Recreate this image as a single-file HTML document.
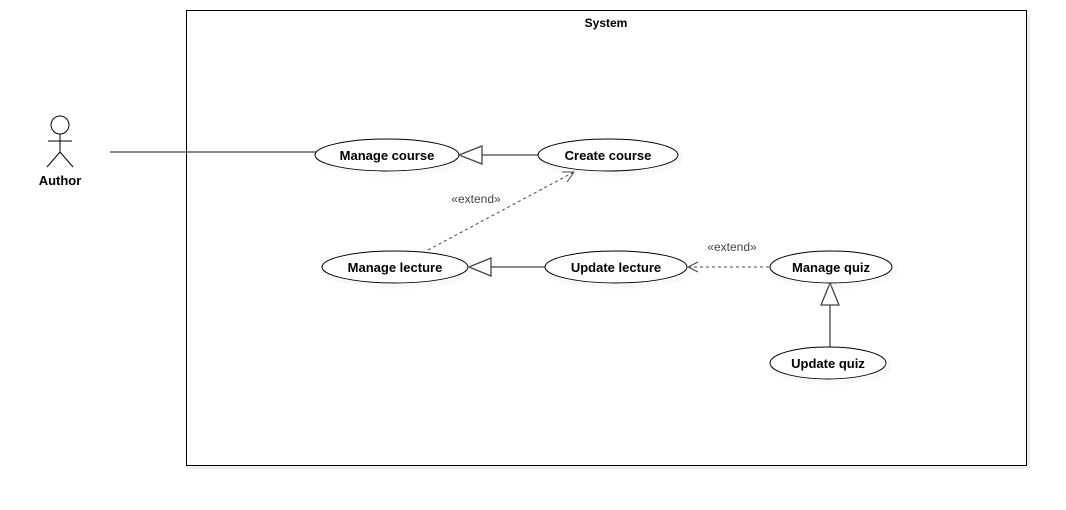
<!DOCTYPE html>
<html><head><style>body{margin:0;background:#fff}</style></head><body>
<svg width="1066" height="505" xmlns="http://www.w3.org/2000/svg" font-family="Liberation Sans, Arial, sans-serif">
<defs><filter id="s" x="-10%" y="-10%" width="130%" height="140%"><feOffset dx="3" dy="3"/><feGaussianBlur stdDeviation="1.5"/><feComponentTransfer><feFuncA type="linear" slope="0.25"/></feComponentTransfer><feMerge><feMergeNode/><feMergeNode in="SourceGraphic"/></feMerge></filter></defs>
<rect x="190" y="14" width="840" height="455" fill="#eee"/>
<rect x="186.5" y="10.5" width="840" height="455" fill="#fff" stroke="#000"/>
<text x="606" y="27" font-size="12" font-weight="bold" text-anchor="middle">System</text>
<g stroke="#000" fill="none">
<circle cx="60" cy="125" r="9"/>
<line x1="60" y1="134" x2="60" y2="152"/>
<line x1="48" y1="141" x2="72" y2="141"/>
<line x1="60" y1="152" x2="47" y2="167"/>
<line x1="60" y1="152" x2="73" y2="167"/>
</g>
<text x="60" y="185" font-size="13" font-weight="bold" text-anchor="middle">Author</text>
<g stroke="#444" stroke-width="1.3" fill="none">
<line x1="110" y1="152" x2="316" y2="152"/>
<line x1="482" y1="155" x2="538" y2="155"/>
<polygon points="459,155 482,146 482,164" fill="#fff"/>
<line x1="491" y1="267" x2="546" y2="267"/>
<polygon points="469,267 491,258 491,276" fill="#fff"/>
<line x1="830" y1="305" x2="830" y2="347"/>
<polygon points="830,283 821,305 839,305" fill="#fff"/>
<line x1="428" y1="250" x2="574" y2="172" stroke-dasharray="3,3" stroke-width="1"/>
<polyline points="562,172 574,172 567,182" stroke-width="1"/>
<line x1="688" y1="267" x2="770" y2="267" stroke-dasharray="3,3" stroke-width="1"/>
<polyline points="698,262 688,267 698,272" stroke-width="1"/>
</g>
<text x="476" y="203" font-size="12" fill="#444" text-anchor="middle">«extend»</text>
<text x="732" y="251" font-size="12" fill="#444" text-anchor="middle">«extend»</text>
<g fill="#fff" stroke="#000" filter="url(#s)">
<ellipse cx="387" cy="155" rx="72" ry="16"/>
<ellipse cx="608" cy="155" rx="70" ry="16"/>
<ellipse cx="395" cy="267" rx="73" ry="16"/>
<ellipse cx="616" cy="267" rx="71" ry="16"/>
<ellipse cx="831" cy="267" rx="61" ry="16"/>
<ellipse cx="828" cy="363" rx="58" ry="16"/>
</g>
<g font-size="13" font-weight="bold" text-anchor="middle">
<text x="387" y="160">Manage course</text>
<text x="608" y="160">Create course</text>
<text x="395" y="272">Manage lecture</text>
<text x="616" y="272">Update lecture</text>
<text x="831" y="272">Manage quiz</text>
<text x="828" y="368">Update quiz</text>
</g>
</svg>
</body></html>
